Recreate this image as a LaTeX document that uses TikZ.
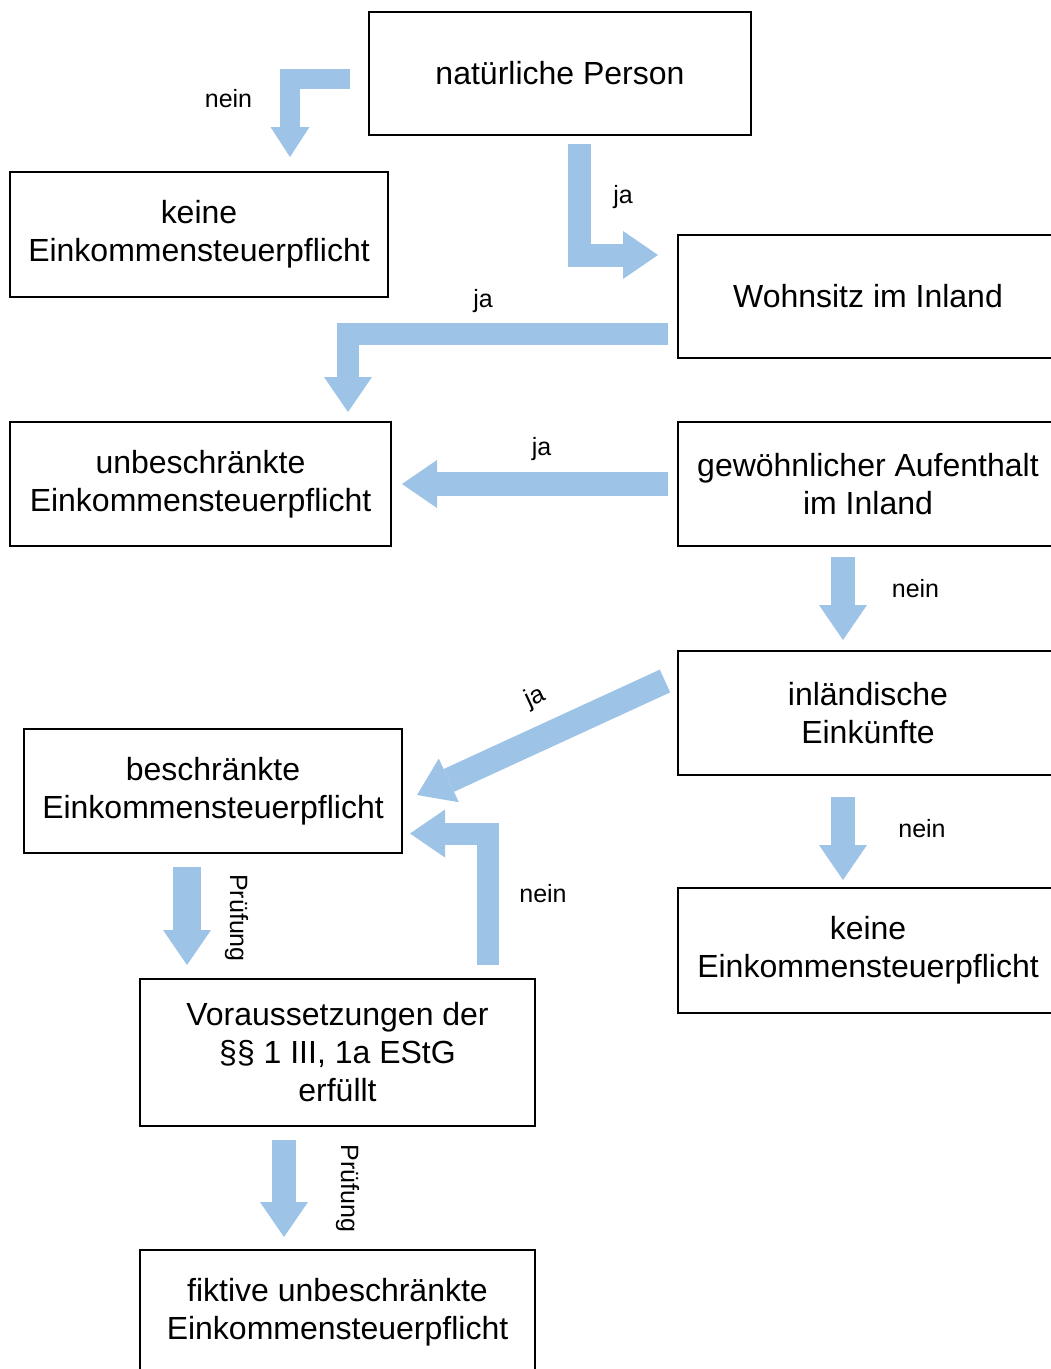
\documentclass[tikz,border=0pt]{standalone}
\usepackage{fontspec}
\setmainfont{Liberation Sans}
\usetikzlibrary{arrows.meta,calc}
\definecolor{flowblue}{HTML}{9DC3E6}

\begin{document}
\begin{tikzpicture}[
  x=1pt,y=-1pt,
  box/.style={draw,line width=2.5pt,minimum width=380pt,minimum height=124pt,inner sep=0pt,outer sep=0pt,align=center,font=\fontsize{32}{38}\selectfont},
  lbl/.style={inner sep=0pt,font=\fontsize{25}{30}\selectfont},
  flow/.style={draw=flowblue,line width=23pt,line join=miter,-{Triangle[length=35pt,width=48pt,line width=0pt]}}
]
  \useasboundingbox (0,0) rectangle (1051,1369);
  \clip (0,0) rectangle (1051,1369);

  \node[box,minimum width=382pt,minimum height=123pt] (nat) at (560,73.5) {natürliche Person};
  \node[box,minimum width=378pt,minimum height=125pt] (keinel) at (199,234.5) {keine\\Einkommensteuerpflicht};
  \node[box,minimum height=123pt] (wohn) at (868,296.5) {Wohnsitz im Inland};
  \node[box,minimum width=381pt] (unbe) at (200.5,484) {unbeschränkte\\Einkommensteuerpflicht};
  \node[box] (gewa) at (868,484) {gewöhnlicher Aufenthalt\\im Inland};
  \node[box] (inl) at (868,713) {inländische\\Einkünfte};
  \node[box,minimum width=378pt] (besch) at (213,791) {beschränkte\\Einkommensteuerpflicht};
  \node[box,minimum height=125pt] (keiner) at (868,950.5) {keine\\Einkommensteuerpflicht};
  \node[box,minimum width=395pt,minimum height=147pt] (vor) at (337.5,1052.5) {Voraussetzungen der\\§§ 1 III, 1a EStG\\erfüllt};
  \node[box,minimum width=395pt] (fikt) at (337.5,1312) {fiktive unbeschränkte\\Einkommensteuerpflicht};

  % block arrows
  \draw[flow,line width=20pt,-{Triangle[length=30pt,width=39pt,line width=0pt]}] ($(nat.west)+(-19,5)$) -| ($(keinel.north)+(91,-15)$);
  \draw[flow] ($(nat.south)+(19.5,9)$) |- ($(wohn.west)+(-20,-41.5)$);
  \draw[flow,line width=22pt] ($(wohn.west)+(-10,37)$) -| ($(unbe.north)+(147.5,-10)$);
  \draw[flow,line width=24pt] ($(gewa.west)+(-10,0)$) -- ($(unbe.east)+(11,0)$);
  \draw[flow,line width=24pt] ($(gewa.south)+(-25,11)$) -- ($(inl.north)+(-25,-11)$);
  \draw[flow,line width=25pt] ($(inl.west)+(-13,-32)$) -- ($(besch.east)+(15,4)$);
  \draw[flow,line width=22pt] ($(vor.north)+(150.5,-14)$) |- ($(besch.east)+(8,42.5)$);
  \draw[flow,line width=28pt] ($(besch.south)+(-26,14)$) -- ($(vor.north)+(-150.5,-14)$);
  \draw[flow,line width=24pt] ($(vor.south)+(-53.5,14)$) -- ($(fikt.north)+(-53.5,-13)$);
  \draw[flow,line width=24pt] ($(inl.south)+(-25,22)$) -- ($(keiner.north)+(-25,-8)$);

  % labels
  \node[lbl,anchor=base] (n1) at (228.5,107) {nein};
  \node[lbl,anchor=base] (j1) at (623,203) {ja};
  \node[lbl,anchor=base] (j2) at (483,307) {ja};
  \node[lbl,anchor=base] (j3) at (541.5,455) {ja};
  \node[lbl,anchor=base] (n2) at (915.5,597) {nein};
  \node[lbl,rotate=25] (j4) at (535,698) {ja};
  \node[lbl,anchor=base] (n3) at (543,902) {nein};
  \node[lbl,anchor=base] (n4) at (922,837) {nein};
  \node[lbl,rotate=-90] (p1) at (236.5,918) {Prüfung};
  \node[lbl,rotate=-90] (p2) at (347.5,1188.5) {Prüfung};
\end{tikzpicture}
\end{document}
